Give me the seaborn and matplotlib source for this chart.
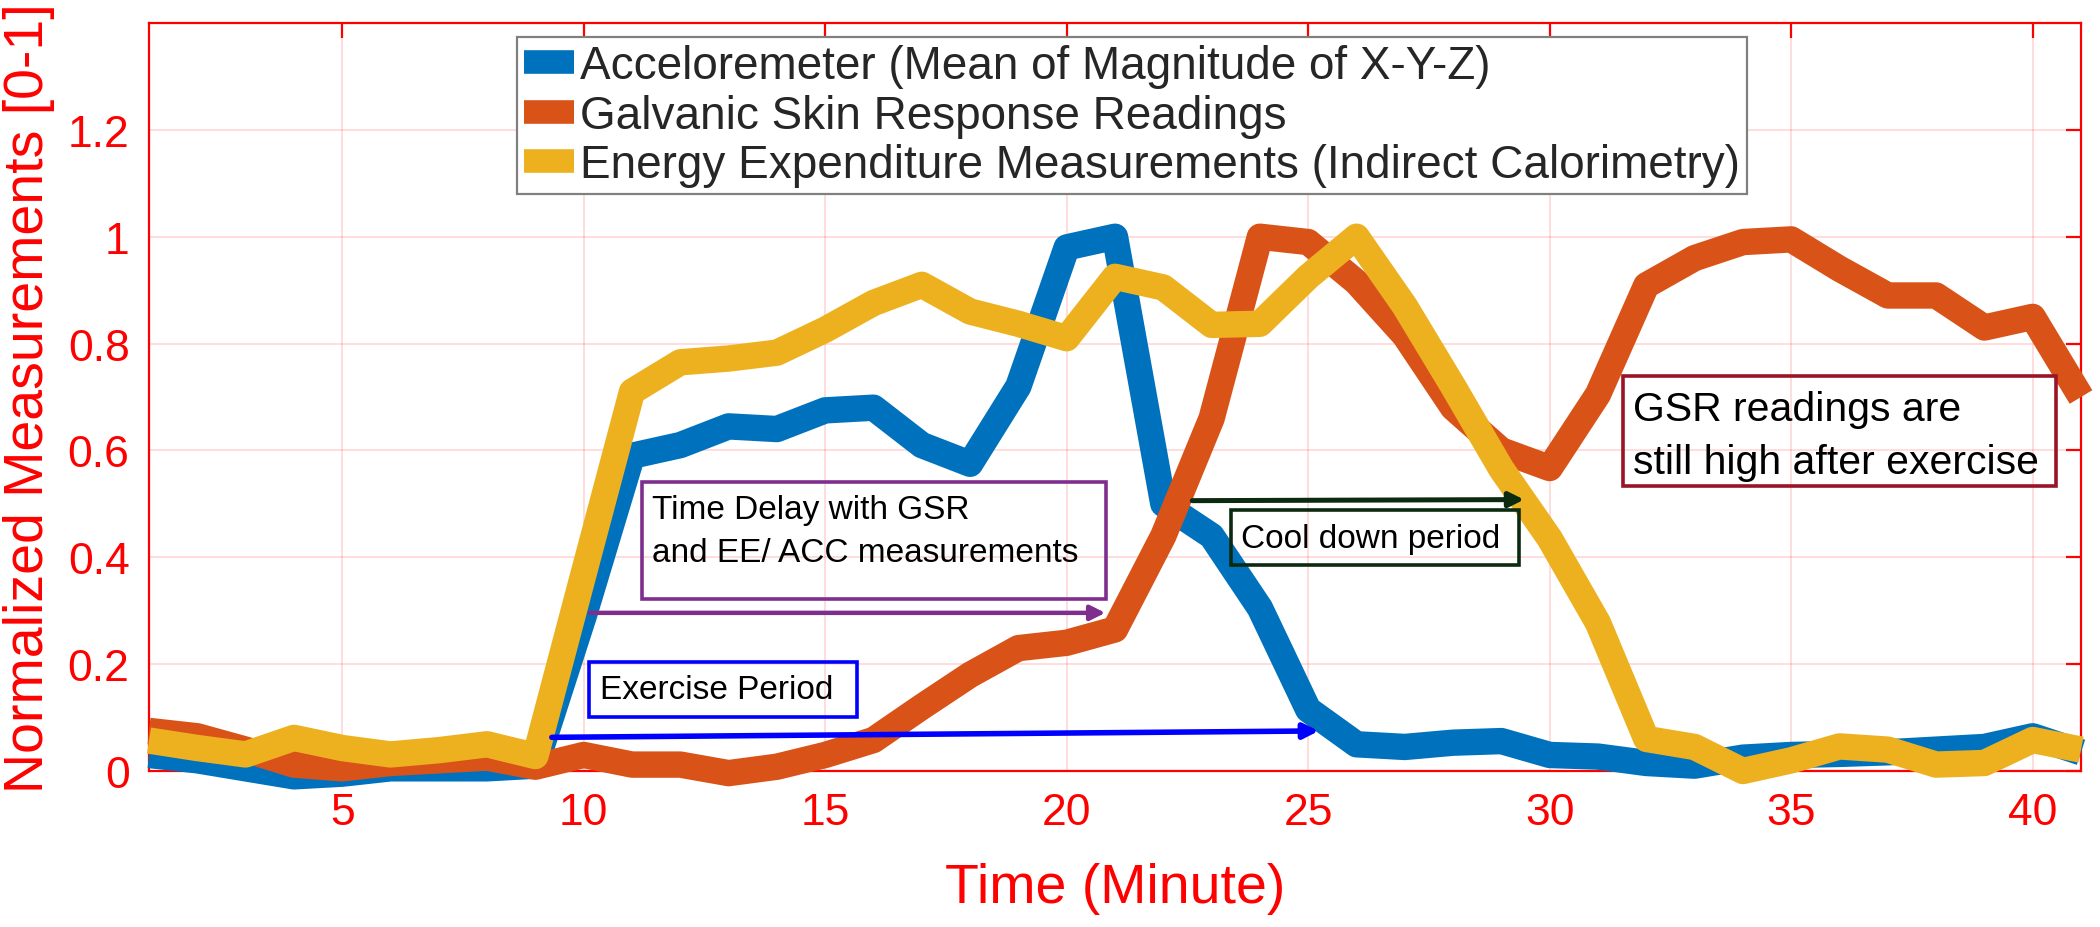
import matplotlib
matplotlib.use("Agg")
import matplotlib.pyplot as plt
import seaborn as sns
import pandas as pd
from matplotlib.patches import Rectangle

# ---------------- data ----------------
minutes = list(range(1, 42))
acc = [0.03, 0.02, 0.005, -0.01, -0.005, 0.005, 0.005, 0.005, 0.01, 0.29,
       0.59, 0.61, 0.645, 0.64, 0.675, 0.68, 0.61, 0.575, 0.72, 0.98,
       1.0, 0.5, 0.44, 0.305, 0.115, 0.05, 0.045, 0.053, 0.056, 0.03,
       0.027, 0.015, 0.01, 0.025, 0.03, 0.032, 0.035, 0.04, 0.045, 0.065,
       0.035]
gsr = [0.075, 0.065, 0.04, 0.012, 0.005, 0.015, 0.02, 0.025, 0.008, 0.03,
       0.012, 0.012, -0.004, 0.008, 0.03, 0.058, 0.12, 0.18, 0.23, 0.24,
       0.265, 0.44, 0.66, 1.0, 0.99, 0.915, 0.815, 0.68, 0.6, 0.567,
       0.705, 0.909, 0.96, 0.99, 0.995, 0.94, 0.89, 0.89, 0.83, 0.85,
       0.70]
ee = [0.057, 0.043, 0.031, 0.062, 0.043, 0.031, 0.039, 0.05, 0.028, 0.37,
      0.71, 0.765, 0.772, 0.783, 0.826, 0.876, 0.91, 0.86, 0.837, 0.81,
      0.925, 0.905, 0.835, 0.837, 0.925, 1.0, 0.87, 0.72, 0.565, 0.435,
      0.277, 0.06, 0.045, 0.0, 0.02, 0.046, 0.04, 0.012, 0.015, 0.058,
      0.04]
series_names = ["Acceloremeter (Mean of Magnitude of X-Y-Z)",
                "Galvanic Skin Response Readings",
                "Energy Expenditure Measurements (Indirect Calorimetry)"]
colors = ["#0072BD", "#D95319", "#EDB120"]
xticks = [5, 10, 15, 20, 25, 30, 35, 40]
yticks = [0, 0.2, 0.4, 0.6, 0.8, 1.0, 1.2]
ytick_labels = ["0", "0.2", "0.4", "0.6", "0.8", "1", "1.2"]
x_label = "Time (Minute)"
y_label = "Normalized Measurements [0-1]"

# annotation boxes: (x0, y0, x1, y1, edgecolor, text lines, text x, first line y, line step, fontsize)
boxes = [
    (11.2, 0.322, 20.82, 0.54, "#7E2F8E", ["Time Delay with GSR", "and EE/ ACC measurements"], 11.42, 0.489, 0.08, 24),
    (10.1, 0.101, 15.65, 0.204, "#0000FF", ["Exercise Period"], 10.33, 0.153, 0.0, 24),
    (23.41, 0.386, 29.36, 0.488, "#0B2A10", ["Cool down period"], 23.6, 0.436, 0.0, 24),
    (31.52, 0.533, 40.49, 0.74, "#9A1428", ["GSR readings are", "still high after exercise"], 31.72, 0.677, 0.098, 29.5),
]
# arrows: (x_start, y_start, x_end, y_end, color, lw)
arrows = [
    (10.13, 0.296, 20.8, 0.296, "#7E2F8E", 3.2),
    (9.34, 0.063, 25.22, 0.075, "#0000FF", 4.0),
    (22.6, 0.506, 29.47, 0.508, "#0B2A10", 3.6),
]

# ---------------- style ----------------
sns.set_theme(style="white")
plt.rcParams["font.family"] = ["Liberation Sans", "DejaVu Sans"]

df = pd.DataFrame({
    "Minute": minutes * 3,
    "Value": acc + gsr + ee,
    "Series": [n for n in series_names for _ in minutes],
})

W, H = 2100, 928
fig = plt.figure(figsize=(W / 100, H / 100), dpi=100)
ax_left, ax_right, ax_top, ax_bot = 149, 2081, 24, 772
ax = fig.add_axes([ax_left / W, (H - ax_bot) / H, (ax_right - ax_left) / W, (ax_bot - ax_top) / H])

sns.lineplot(data=df, x="Minute", y="Value", hue="Series", hue_order=series_names,
             palette=colors, linewidth=19, ax=ax, legend=False, sort=False)
for ln in ax.lines:
    ln.set_solid_joinstyle("round")
    ln.set_solid_capstyle("butt")
    ln.set_clip_on(False)
    ln.set_zorder(3)

ax.set_xlim(1, 41)
ax.set_ylim(0, 1.4)
ax.set_xticks(xticks)
ax.set_yticks(yticks)
ax.set_yticklabels(ytick_labels)
ax.grid(True, color="#FF0000", alpha=0.15, linewidth=1.3)
ax.set_axisbelow(True)
for s in ax.spines.values():
    s.set_color("#FF0000")
    s.set_linewidth(1.6)
    s.set_visible(True)
ax.tick_params(axis="both", direction="in", length=11, width=1.6, color="#FF0000",
               labelcolor="#FF0000", labelsize=32, top=True, right=True)
ax.tick_params(axis="x", pad=15)
ax.tick_params(axis="y", pad=14)

ax.set_xlabel(x_label, fontsize=40, color="#FF0000")
ax.set_ylabel(y_label, fontsize=40, color="#FF0000")
ax.xaxis.set_label_coords(0.5, -0.122)
ax.yaxis.set_label_coords((55 - ax_left) / (ax_right - ax_left), 0.5)

leg = ax.legend(ax.lines[:3], series_names, loc="upper left",
                bbox_to_anchor=((8.62 - 1) / 40, 1.373 / 1.4), borderaxespad=0,
                fontsize=33, handlelength=1.1, handletextpad=0.12, borderpad=0.15,
                labelspacing=0.12, frameon=True, fancybox=False, framealpha=1,
                edgecolor="#808080")
leg.get_frame().set_linewidth(1.6)
leg.set_zorder(10)
for h in leg.legend_handles:
    h.set_linewidth(17)
    h.set_solid_capstyle("butt")

for (x0, y0, x1, y1, ec, lines, tx, ty, step, fs) in boxes:
    ax.add_patch(Rectangle((x0, y0), x1 - x0, y1 - y0, fill=False, edgecolor=ec,
                           linewidth=2.6, zorder=6))
    for i, t in enumerate(lines):
        ax.text(tx, ty - i * step, t, fontsize=fs, color="black", ha="left",
                va="center", zorder=7)

for (xs, ys, xe, ye, c, lw) in arrows:
    ax.annotate("", xy=(xe, ye), xytext=(xs, ys),
                arrowprops=dict(arrowstyle="-|>", color=c, lw=lw, mutation_scale=22,
                                shrinkA=0, shrinkB=0), zorder=6)

fig.savefig("out.png", dpi=100, facecolor="white")
